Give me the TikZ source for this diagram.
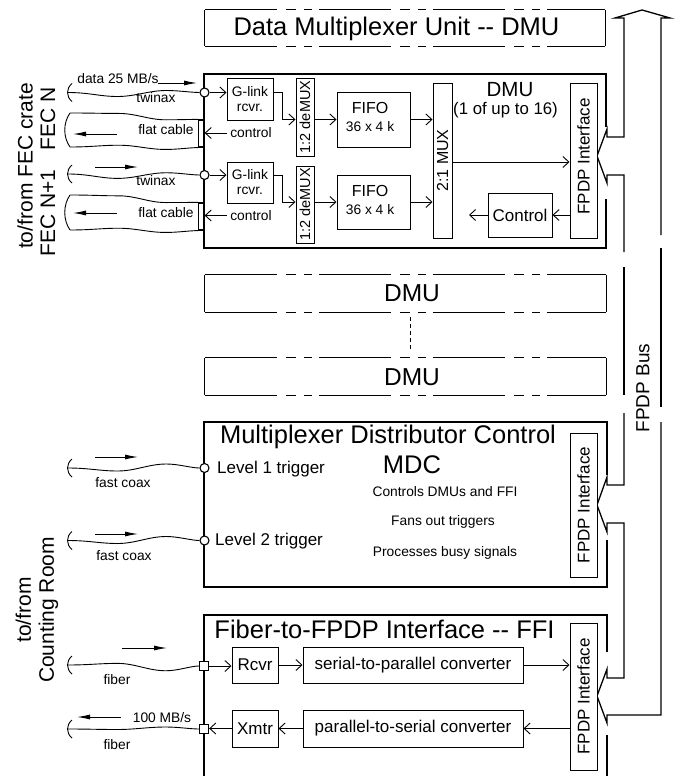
\documentclass[tikz,border=0pt]{standalone}
\usepackage{fontspec}
\setmainfont{Liberation Sans}
\usetikzlibrary{arrows.meta,calc}
\newcommand{\cablewave}[4]{%
  \draw[wire] (#1) .. controls +(22,0) and +(-18,0) .. ($(#1)!0.38!(#2)+(0,#3)$)
    .. controls +(18,0) and +(-18,0) .. ($(#1)!0.75!(#2)+(0,#4)$)
    .. controls +(12,0) and +(-8,0) .. (#2);}
\newcommand{\cablecap}[1]{%
  \draw[wire] ($(#1)+(4.5,-9)$) .. controls ($(#1)+(-1.5,-4)$) and ($(#1)+(-1.5,4)$) .. ($(#1)+(4.5,9)$);}
\begin{document}
\begin{tikzpicture}[x=1pt,y=-1pt,
  wire/.style={line width=0.9pt},
  frame/.style={line width=1.8pt},
  bus/.style={line width=1.3pt},
  bx/.style={draw,line width=1pt,inner sep=0pt,fill=white},
  port/.style={circle,draw,fill=white,line width=1.1pt,minimum size=9pt,inner sep=0pt},
  sqport/.style={rectangle,draw,fill=white,line width=1.3pt,minimum size=9pt,inner sep=0pt},
  flat/.style={rectangle,draw,fill=white,line width=1.2pt,minimum width=5.5pt,minimum height=27pt,inner sep=0pt},
  barb/.style={wire,-{Straight Barb[length=6pt,width=11pt]}},
  cab/.style={wire,-{Latex[length=13pt,width=5pt]}},
  dsh/.style={line width=1pt,dash pattern=on 72pt off 9pt on 10pt off 8pt on 8pt off 7pt},
  ttl/.style={inner sep=0pt,font=\fontsize{25.5}{28}\selectfont},
  side/.style={inner sep=0pt,font=\fontsize{21}{22}\selectfont,rotate=90,align=center},
  midt/.style={inner sep=0pt,font=\fontsize{17}{19}\selectfont},
  lab/.style={inner sep=0pt,font=\fontsize{13.8}{15}\selectfont},
  rlab/.style={inner sep=0pt,font=\fontsize{17}{19}\selectfont,rotate=90},
]
\useasboundingbox (0,0) rectangle (675,776);

% ---------- top dashed box ----------
\node[minimum width=400pt,minimum height=36pt,inner sep=0pt] (dmuall) at (405,28) {};
\draw[dsh] (dmuall.north west) -- (dmuall.north east);
\draw[dsh] (dmuall.south west) -- (dmuall.south east);
\draw[wire] (dmuall.north west) -- (dmuall.south west);
\draw[wire] (dmuall.north east) -- (dmuall.south east);
\node[ttl] (dmualltxt) at (396.5,29) {Data Multiplexer Unit -{}- DMU};

% ---------- bus ----------
\draw[bus] (624,252) -- (624,175) -- (607,175) -- (607,183) -- (597,156) -- (607,129) -- (607,137) -- (624,137)
   -- (624,18) -- (615,18) -- (642,10) -- (670,18) -- (661,18) -- (661,235);
\draw[bus] (624,267) -- (624,395);
\draw[bus] (661,248) -- (661,407);
\draw[bus] (624,413) -- (624,485) -- (607,485) -- (607,477) -- (597,505) -- (607,532) -- (607,523) -- (624,523)
   -- (624,678) -- (607,678) -- (607,669) -- (597,696) -- (607,723) -- (607,715) -- (661,715) -- (661,422);
\node[side,font=\fontsize{19}{21}\selectfont] (busl) at (643,388) {FPDP Bus};

% ---------- DMU frame ----------
\draw[frame] (606,127) -- (606,74) -- (204,74) -- (204,248) -- (606,248) -- (606,199);
\node[inner sep=0pt,font=\fontsize{20.5}{22}\selectfont] (dmut) at (510,90) {DMU};
\node[inner sep=0pt,font=\fontsize{16.8}{18}\selectfont] (dmus) at (505.5,110.5) {(1 of up to 16)};

\node[bx,minimum width=46pt,minimum height=42pt,align=center,font=\fontsize{13.8}{15}\selectfont] (gl1) at (250,99) {G-link\\rcvr.};
\node[bx,minimum width=46pt,minimum height=41pt,align=center,font=\fontsize{13.8}{15}\selectfont] (gl2) at (250,182.5) {G-link\\rcvr.};
\node[bx,minimum width=18pt,minimum height=78pt] (dm1) at (305,117) {};
\node[bx,minimum width=18pt,minimum height=77pt] (dm2) at (305,204.5) {};
\node[rlab,font=\fontsize{14.5}{16}\selectfont] (dm1t) at (dm1) {1:2 deMUX};
\node[rlab,font=\fontsize{14.5}{16}\selectfont] (dm2t) at (dm2) {1:2 deMUX};
\node[bx,minimum width=73pt,minimum height=55pt] (ff1) at (373.5,119.5) {};
\node[bx,minimum width=73pt,minimum height=54pt] (ff2) at (373.5,202) {};
\node[inner sep=0pt,font=\fontsize{16}{18}\selectfont] (ff1a) at (370,108) {FIFO};
\node[lab] (ff1b) at (370,127) {36 x 4 k};
\node[inner sep=0pt,font=\fontsize{16}{18}\selectfont] (ff2a) at (370,191) {FIFO};
\node[lab] (ff2b) at (370,210) {36 x 4 k};
\node[bx,minimum width=19pt,minimum height=155pt] (mux) at (442.5,160.5) {};
\node[rlab,font=\fontsize{16}{18}\selectfont] (muxt) at (mux) {2:1 MUX};
\node[bx,minimum width=27pt,minimum height=155pt] (fp1) at (583.5,160.5) {};
\node[rlab] (fp1t) at ($(fp1)+(0,-4)$) {FPDP Interface};
\node[bx,minimum width=64pt,minimum height=44pt,midt] (ctl) at (520,215) {Control};
\coordinate (ctlend) at (469,215);

\node[port] (c1) at (204.5,92.5) {};
\node[port] (c2) at (204.5,175) {};
\node[flat] (fl1) at (201.25,133.5) {};
\node[flat] (fl2) at (201.25,216.5) {};
\node[lab] (ct1) at (251,133) {control};
\node[lab] (ct2) at (251,215.5) {control};

\draw[barb] (c1.east) -- (gl1.west |- c1.east);
\draw[barb] (c2.east) -- (gl2.west |- c2.east);
\draw[barb] ([yshift=6.5pt]gl1.east) -- ++(9,0) |- (dm1.west |- ff1.west);
\draw[barb] ([yshift=7.5pt]gl2.east) -- ++(9,0) |- (dm2.west |- ff2.west);
\draw[barb] (dm1.east |- ff1.west) -- (ff1.west);
\draw[barb] (dm2.east |- ff2.west) -- (ff2.west);
\draw[barb] (ff1.east) -- (mux.west |- ff1.east);
\draw[barb] (ff2.east) -- (mux.west |- ff2.east);
\draw[barb] ([yshift=-1.5pt]mux.east) -- ([yshift=-1.5pt]fp1.west);
\draw[barb] (fp1.west |- ctl.east) -- (ctl.east);
\draw[barb] (ctl.west) -- (ctlend);
\draw[barb] ([xshift=-3pt]ct1.west) -- (fl1.east |- ct1.west);
\draw[barb] ([xshift=-3pt]ct2.west) -- (fl2.east |- ct2.west);

% ---------- DMU cables ----------
\coordinate (tw1) at (67.5,92.5);
\cablecap{tw1}
\cablewave{tw1}{c1.west}{4}{-2}
\coordinate (tw2) at (67.5,174);
\cablecap{tw2}
\cablewave{tw2}{c2.west}{4}{-2}
\coordinate (f1t) at (70,113);
\coordinate (f1b) at (70,147);
\cablewave{f1t}{fl1.north west}{-2}{2}
\cablewave{f1b}{fl1.south west}{-2}{2}
\draw[wire] (f1t) .. controls +(-7,10) and +(-7,-10) .. (f1b);
\coordinate (f2t) at (70,195);
\coordinate (f2b) at (70,230);
\cablewave{f2t}{fl2.north west}{-2}{2}
\cablewave{f2b}{fl2.south west}{-2}{2}
\draw[wire] (f2t) .. controls +(-7,10) and +(-7,-10) .. (f2b);

\node[lab] (d25) at (118,79) {data 25 MB/s};
\coordinate (d25a) at (158,83);
\coordinate (d25b) at (197,83);
\draw[cab] (d25a) -- (d25b);
\node[lab] (twl1) at (156,98) {twinax};
\node[lab] (twl2) at (156,181) {twinax};
\node[lab] (fll1) at (166,130) {flat cable};
\node[lab] (fll2) at (166,213) {flat cable};
\coordinate (ar1a) at (117,134); \coordinate (ar1b) at (73,134);
\draw[cab] (ar1a) -- (ar1b);
\coordinate (ar2a) at (95,167); \coordinate (ar2b) at (138,167);
\draw[cab] (ar2a) -- (ar2b);
\coordinate (ar3a) at (117,213); \coordinate (ar3b) at (73,213);
\draw[cab] (ar3a) -- (ar3b);

\node[side] (fec) at (25,166) {to/from FEC crate};
\node[side] (fecn) at (48,118.5) {FEC N};
\node[side] (fecn1) at (48,213) {FEC N+1};

% ---------- DMU dashed boxes ----------
\node[minimum width=401pt,minimum height=37pt,inner sep=0pt] (dmuA) at (405.5,293.5) {};
\draw[dsh] (dmuA.north west) -- (dmuA.north east);
\draw[dsh] (dmuA.south west) -- (dmuA.south east);
\draw[wire] (dmuA.north west) -- (dmuA.south west);
\draw[wire] (dmuA.north east) -- (dmuA.south east);
\node[inner sep=0pt,font=\fontsize{24.5}{26}\selectfont] (dmuAt) at (412,293.5) {DMU};
\node[minimum width=401pt,minimum height=37pt,inner sep=0pt] (dmuB) at (405.5,376.5) {};
\draw[dsh] (dmuB.north west) -- (dmuB.north east);
\draw[dsh] (dmuB.south west) -- (dmuB.south east);
\draw[wire] (dmuB.north west) -- (dmuB.south west);
\draw[wire] (dmuB.north east) -- (dmuB.south east);
\node[inner sep=0pt,font=\fontsize{24.5}{26}\selectfont] (dmuBt) at (412,377) {DMU};
\draw[wire,dash pattern=on 4pt off 3pt] ($(dmuA.south)+(4.5,5)$) -- ($(dmuB.north)+(4.5,-6)$);

% ---------- MDC ----------
\draw[frame] (607,475) -- (607,422) -- (204,422) -- (204,587) -- (607,587) -- (607,540);
\node[ttl] (mdct) at (388,437) {Multiplexer Distributor Control};
\node[ttl] (mdcs) at (412,465) {MDC};
\node[lab] (mdc1) at (445,492) {Controls DMUs and FFI};
\node[lab] (mdc2) at (443,522) {Fans out triggers};
\node[lab] (mdc3) at (445,553) {Processes busy signals};
\node[bx,minimum width=27pt,minimum height=144pt] (fp2) at (583.5,505) {};
\node[rlab] (fp2t) at (fp2) {FPDP Interface};
\node[port] (m1) at (204.5,468) {};
\node[port] (m2) at (204.5,540.5) {};
\node[midt,anchor=west] (lv1) at (217,469) {Level 1 trigger};
\node[midt,anchor=west] (lv2) at (215,541) {Level 2 trigger};
\coordinate (fc1) at (67.5,468);
\cablecap{fc1}
\cablewave{fc1}{m1.west}{3}{-4}
\coordinate (fc2) at (67.5,540.5);
\cablecap{fc2}
\cablewave{fc2}{m2.west}{3}{-4}
\node[lab] (fcl1) at (123,483) {fast coax};
\node[lab] (fcl2) at (124,556) {fast coax};
\coordinate (ar4a) at (95,457); \coordinate (ar4b) at (138,457);
\draw[cab] (ar4a) -- (ar4b);
\coordinate (ar5a) at (95,534); \coordinate (ar5b) at (138,534);
\draw[cab] (ar5a) -- (ar5b);

\node[side,font=\fontsize{21}{23}\selectfont] (cr) at (37,610) {to/from\\Counting Room};

% ---------- FFI ----------
\draw[frame] (607,652) -- (607,615) -- (204,615) -- (204,776);
\draw[frame] (607,735) -- (607,776);
\node[ttl] (ffit) at (384.5,629) {Fiber-to-FPDP Interface -{}- FFI};
\node[bx,minimum width=46pt,minimum height=36pt,midt] (rcv) at (255,665) {Rcvr};
\node[bx,minimum width=220pt,minimum height=36pt,midt] (s2p) at (413,665) {serial-to-parallel converter};
\node[bx,minimum width=46pt,minimum height=37pt,midt] (xmt) at (255,728.5) {Xmtr};
\node[bx,minimum width=220pt,minimum height=37pt,midt] (p2s) at (413,728.5) {parallel-to-serial converter};
\node[bx,minimum width=27pt,minimum height=147pt] (fp3) at (583.5,696.5) {};
\node[rlab] (fp3t) at (fp3) {FPDP Interface};
\node[sqport] (s1) at (204,666) {};
\node[sqport] (s2) at (204,729) {};
\draw[barb] (s1.east) -- (rcv.west |- s1.east);
\draw[barb] (rcv.east) -- (s2p.west);
\draw[barb] (s2p.east) -- (fp3.west |- s2p.east);
\draw[barb] (fp3.west |- p2s.east) -- (p2s.east);
\draw[barb] (p2s.west) -- (xmt.east);
\draw[barb] (xmt.west) -- (s2.east |- xmt.west);
\coordinate (fb1) at (67.5,665);
\cablecap{fb1}
\cablewave{fb1}{s1.west}{-2}{5}
\coordinate (fb2) at (67.5,729);
\cablecap{fb2}
\cablewave{fb2}{s2.west}{0.5}{-2}
\node[lab] (fbl1) at (117,680) {fiber};
\node[lab] (fbl2) at (117,745) {fiber};
\node[lab] (m100) at (162,718) {100 MB/s};
\coordinate (ar6a) at (122,648); \coordinate (ar6b) at (167,648);
\draw[cab] (ar6a) -- (ar6b);
\coordinate (ar7a) at (121,717); \coordinate (ar7b) at (77,717);
\draw[cab] (ar7a) -- (ar7b);
\end{tikzpicture}
\end{document}
